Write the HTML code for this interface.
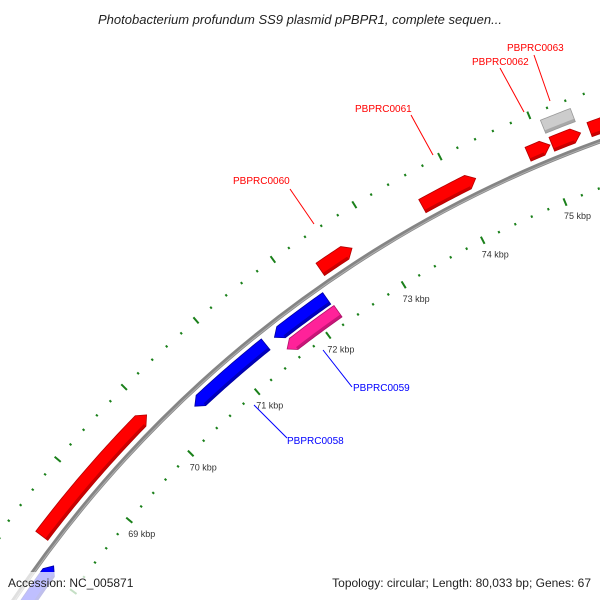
<!DOCTYPE html>
<html><head><meta charset="utf-8"><style>
html,body{margin:0;padding:0;background:#fff;width:600px;height:600px;overflow:hidden}
svg{display:block;font-family:"Liberation Sans","DejaVu Sans",sans-serif}
</style></head><body>
<svg id="map" width="600" height="600" viewBox="0 0 600 600" overflow="hidden" xmlns="http://www.w3.org/2000/svg">
<rect width="600" height="600" fill="#fff"/>
<g id="ticks"></g>
<circle cx="1010" cy="1269" r="1200" fill="none" stroke="#858585" stroke-width="4.5"/>
<circle cx="1010" cy="1269" r="1199" fill="none" stroke="#b0b0b0" stroke-width="1"/>
<g id="features"></g>
<g id="labels"></g>
<text x="300" y="24" text-anchor="middle" font-size="13" font-style="italic" fill="#222">Photobacterium profundum SS9 plasmid pPBPR1, complete sequen...</text>
<rect x="4" y="572" width="592" height="28" fill="#fff" opacity="0.75"/>
<text x="8" y="587" font-size="12" fill="#222">Accession: NC_005871</text>
<text x="591" y="587" text-anchor="end" font-size="12" fill="#222">Topology: circular; Length: 80,033 bp; Genes: 67</text>
</svg>
<script>
const CX=1010, CY=1269, L=80033;
const featStart=[66900,68280,70390,71520,71550,72340,73600,74835,75090,75106,75530];
const featEnd  =[68100,69960,71400,72220,72240,72740,74230,75085,75420,75430,76400];
const featTrack=["blue","red","blue","blue","pink","red","red","red","gray","red","red"];
const featDir  =[1,1,-1,-1,-1,1,1,1,0,1,1];
const featName =["","","PBPRC0058","","PBPRC0059","PBPRC0060","PBPRC0061","PBPRC0062","PBPRC0063","",""];
const tickStart=66000, tickEnd=77000, tickStep=200;
const labelKbp=[69,70,71,72,73,74,75];
const SVGNS="http://www.w3.org/2000/svg";
function pt(r,bp){const t=bp/L*2*Math.PI;return [CX+r*Math.sin(t),CY-r*Math.cos(t)];}
function mk(tag,attrs,parent){const e=document.createElementNS(SVGNS,tag);for(const k in attrs)e.setAttribute(k,attrs[k]);parent.appendChild(e);return e;}
const tracks={red:{r0:1207,r1:1222,fill:"#ff0000",dark:"#b30000"},blue:{r0:1180,r1:1194,fill:"#0000ff",dark:"#0000a0"},pink:{r0:1163,r1:1177,fill:"#ff2299",dark:"#b0106a"},gray:{r0:1227,r1:1241,fill:"#cccccc",dark:"#999999"}};
const tg=document.getElementById('ticks');
for(let bp=tickStart;bp<=tickEnd;bp+=tickStep){
  const major=bp%1000===0;
  [1156,1250].forEach(r=>{
    const h=major?4:1.2;
    const a=pt(r-h,bp),b=pt(r+h,bp);
    const l=mk('line',{x1:a[0],y1:a[1],x2:b[0],y2:b[1],stroke:"#1a801a","stroke-width":2},tg);
    
    
  });
}
labelKbp.forEach(k=>{
  const p=pt(1156,k*1000);
  const t=mk('text',{x:p[0]-1,y:p[1]+17,"font-size":9,fill:"#333"},tg);
  t.textContent=k+" kbp";
  
  
});
function arc(r,a,b){const pts=[];const n=Math.max(2,Math.ceil(Math.abs(b-a)/40));for(let i=0;i<=n;i++)pts.push(pt(r,a+(b-a)*i/n));return pts;}
const fg=document.getElementById('features');
for(let i=0;i<featStart.length;i++){
  const tr=tracks[featTrack[i]],s=featStart[i],e=featEnd[i],d=featDir[i];
  const head=90, rm=(tr.r0+tr.r1)/2;
  let pts;
  if(d===1){const hb=Math.max(s,e-head);pts=arc(tr.r0,s,hb).concat([pt(rm,e)],arc(tr.r1,hb,s));}
  else if(d===-1){const hb=Math.min(e,s+head);pts=[pt(rm,s)].concat(arc(tr.r0,hb,e),arc(tr.r1,e,hb));}
  else pts=arc(tr.r0,s,e).concat(arc(tr.r1,e,s));
  const g=mk('g',{},fg);
  
  
  mk('polygon',{points:pts.map(p=>p.join(',')).join(' '),fill:tr.fill,stroke:tr.dark,"stroke-width":0.8},g);
  const hb2=d===1?Math.max(s,e-head):e, sb=d===-1?Math.min(e,s+head):s;
  const sp=arc(tr.r0,sb,hb2).concat(arc(tr.r0+3,hb2,sb));
  mk('polygon',{points:sp.map(p=>p.join(',')).join(' '),fill:tr.dark,opacity:0.7},g);
}
const lg=document.getElementById('labels');
const lbl=[
 ["PBPRC0060","#f00",233,184,290,189,314,224],
 ["PBPRC0061","#f00",355,112,411,115,433,155],
 ["PBPRC0062","#f00",472,65,500,68,524,112],
 ["PBPRC0063","#f00",507,51,534,55,550,101],
 ["PBPRC0059","#00f",353,391,352,387,323,350],
 ["PBPRC0058","#00f",287,444,287,438,254,405]];
lbl.forEach(a=>{
  const l=mk('line',{x1:a[4],y1:a[5],x2:a[6],y2:a[7],stroke:a[1],"stroke-width":1},lg);
  
  
  const t=mk('text',{x:a[2],y:a[3],"font-size":10,fill:a[1]},lg);
  t.textContent=a[0];
  
  
});
</script>
</body></html>
